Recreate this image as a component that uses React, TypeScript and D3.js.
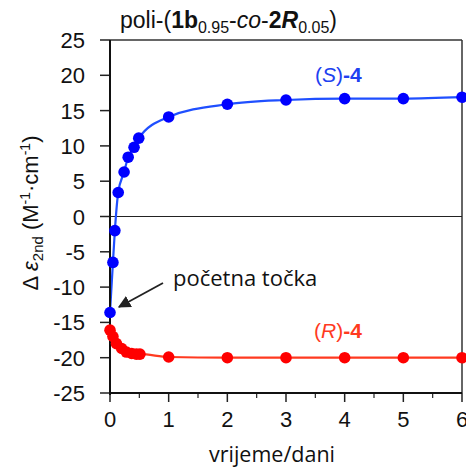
import React from "react";
import * as d3 from "d3";

const blueX = [0, 0.05, 0.083, 0.14, 0.24, 0.31, 0.41, 0.49, 1, 2, 3, 4, 5, 6];
const blueY = [-13.6, -6.5, -2.0, 3.4, 6.3, 8.4, 9.8, 11.1, 14.1, 15.9, 16.5, 16.7, 16.7, 16.9];
const redX = [0, 0.05, 0.11, 0.2, 0.28, 0.37, 0.45, 0.51, 1, 2, 3, 4, 5, 6];
const redY = [-16.1, -17.0, -18.0, -18.7, -19.2, -19.4, -19.5, -19.5, -19.9, -20.0, -20.0, -20.0, -20.0, -20.0];
const xTicks = [0, 1, 2, 3, 4, 5, 6];
const xMinorTicks = [0.5, 1.5, 2.5, 3.5, 4.5, 5.5];
const yTicks = [-25, -20, -15, -10, -5, 0, 5, 10, 15, 20, 25];

const W = 466;
const H = 468;
const L = 110, R = 462, T = 40, B = 393;

export default function App() {
  const x = d3.scaleLinear().domain([0, 6]).range([L, R]);
  const y = d3.scaleLinear().domain([-25, 25]).range([B, T]);
  const line = d3
    .line<[number, number]>()
    .x((d) => x(d[0]))
    .y((d) => y(d[1]))
    .curve(d3.curveMonotoneX);
  const blue: [number, number][] = blueX.map((v, i) => [v, blueY[i]]);
  const red: [number, number][] = redX.map((v, i) => [v, redY[i]]);
  const font = "'Liberation Sans', Arial, sans-serif";
  const font2 = "'Open Sans', 'Noto Sans', sans-serif";

  return (
    <svg
      width={W}
      height={H}
      style={{ position: "absolute", left: 0, top: 0, background: "#fff" }}
      fontFamily={font}
    >
      <defs>
        <marker id="ah" viewBox="0 0 10 10" refX="9" refY="5" markerWidth="7" markerHeight="7" orient="auto">
          <path d="M0,0 L10,5 L0,10 z" fill="#222" />
        </marker>
      </defs>
      <rect x={0} y={0} width={W} height={H} fill="#fff" />
      {/* title */}
      <text x={120} y={28} fontSize={23} fill="#111">
        <tspan>poli-(</tspan>
        <tspan fontWeight="bold">1b</tspan>
        <tspan fontSize={16} dy={5}>0.95</tspan>
        <tspan dy={-5}>-</tspan>
        <tspan fontStyle="italic">co</tspan>
        <tspan>-</tspan>
        <tspan fontWeight="bold">2</tspan>
        <tspan fontWeight="bold" fontStyle="italic">R</tspan>
        <tspan fontSize={16} dy={5}>0.05</tspan>
        <tspan dy={-5}>)</tspan>
      </text>

      {/* frame */}
      <line x1={L} x2={R} y1={T} y2={T} stroke="#333" strokeWidth={1.5} />
      <line x1={R} x2={R} y1={T} y2={B} stroke="#333" strokeWidth={1.5} />
      {/* zero line */}
      <line x1={L} x2={R} y1={y(0)} y2={y(0)} stroke="#222" strokeWidth={1.2} />

      {/* y ticks */}
      {yTicks.map((t) => (
        <g key={"y" + t}>
          <line x1={L - 10} x2={L} y1={y(t)} y2={y(t)} stroke="#222" strokeWidth={1.5} />
          <text x={85} y={y(t) + 8} fontSize={22} textAnchor="end" fill="#111">
            {t}
          </text>
        </g>
      ))}
      {/* x ticks */}
      {xTicks.map((t) => (
        <g key={"x" + t}>
          <line x1={x(t)} x2={x(t)} y1={B} y2={B + 9} stroke="#222" strokeWidth={1.5} />
          <text x={x(t)} y={427} fontSize={22} textAnchor="middle" fill="#111">
            {t}
          </text>
        </g>
      ))}
      {xMinorTicks.map((t) => (
        <line key={"m" + t} x1={x(t)} x2={x(t)} y1={B} y2={B + 5} stroke="#222" strokeWidth={1.2} />
      ))}

      {/* series lines */}
      <path d={line(blue) || ""} fill="none" stroke="#1f4fff" strokeWidth={2.2} />
      <path d={line(red) || ""} fill="none" stroke="#ff3a20" strokeWidth={2.2} />

      {/* axes lines */}
      <line x1={L} x2={L} y1={T} y2={B + 2} stroke="#111" strokeWidth={2} />
      <line x1={L - 1} x2={R} y1={B} y2={B} stroke="#111" strokeWidth={2} />

      {/* points */}
      {blue.map((d, i) => (
        <circle key={"b" + i} cx={x(d[0])} cy={y(d[1])} r={5.8} fill="#0000ff" />
      ))}
      {red.map((d, i) => (
        <circle key={"r" + i} cx={x(d[0])} cy={y(d[1])} r={5.8} fill="#ff0000" />
      ))}

      {/* series labels */}
      <text x={315} y={82} fontSize={21} fill="#2040f0">
        <tspan>(</tspan>
        <tspan fontStyle="italic">S</tspan>
        <tspan>)</tspan>
        <tspan fontWeight="bold">-4</tspan>
      </text>
      <text x={314} y={338} fontSize={21} fill="#ff3a1f">
        <tspan>(</tspan>
        <tspan fontStyle="italic">R</tspan>
        <tspan>)</tspan>
        <tspan fontWeight="bold">-4</tspan>
      </text>

      {/* annotation */}
      <text x={173} y={286} fontSize={22} fontFamily={font2} fill="#111">
        početna točka
      </text>
      <line x1={163} y1={283} x2={119} y2={307} stroke="#222" strokeWidth={1.8} markerEnd="url(#ah)" />

      {/* axis titles */}
      <text x={272} y={462} fontSize={21.5} fontFamily={font2} textAnchor="middle" fill="#111">
        vrijeme/dani
      </text>
      <text transform="translate(38,213) rotate(-90)" textAnchor="middle" fontSize={22} fill="#111">
        <tspan>Δ </tspan>
        <tspan fontStyle="italic">ε</tspan>
        <tspan fontSize={15} dy={5}>2nd</tspan>
        <tspan dy={-5}> (M</tspan>
        <tspan fontSize={14} dy={-8}>-1</tspan>
        <tspan dy={8}>·cm</tspan>
        <tspan fontSize={14} dy={-8}>-1</tspan>
        <tspan dy={8}>)</tspan>
      </text>
    </svg>
  );
}
